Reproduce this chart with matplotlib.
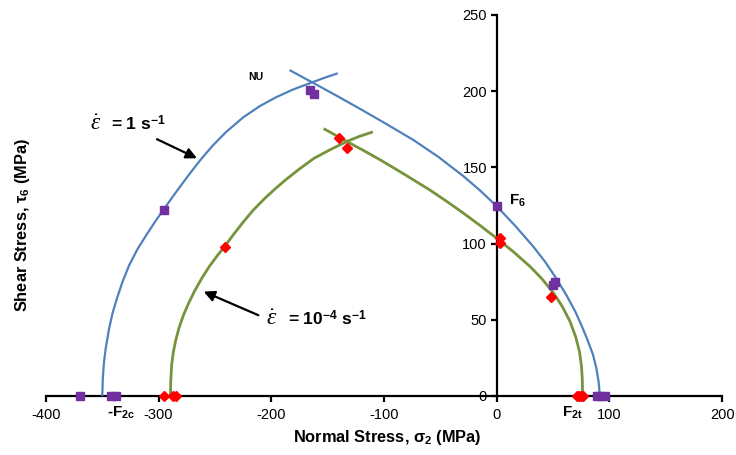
import matplotlib
matplotlib.use('Agg')
import matplotlib.pyplot as plt

plt.rcParams['font.family'] = ['Liberation Sans', 'DejaVu Sans']
plt.rcParams['mathtext.fontset'] = 'custom'
plt.rcParams['mathtext.rm'] = 'Liberation Sans'
plt.rcParams['mathtext.it'] = 'Liberation Serif:italic'
plt.rcParams['mathtext.bf'] = 'Liberation Sans:bold'

# ---------------- data ----------------
x_ticks = [-400, -300, -200, -100, 0, 100, 200]
y_ticks = [0, 50, 100, 150, 200, 250]

# strain rate 1 s^-1 envelope (blue)
blue_left_x = [-350, -349.5, -348.5, -347, -344, -341, -337, -332, -326, -319, -311,
               -303, -295, -285, -274, -263, -252, -240, -225, -210, -195, -181,
               -163, -152, -142]
blue_left_y = [0, 12, 22, 31, 44, 54, 64, 75, 86, 96, 105.5,
               114.5, 123, 133.3, 144.3, 154.8, 164.3, 173.3, 182.8, 190.3, 196.3, 201,
               206, 209, 211.5]
blue_right_x = [-183, -163, -142, -121, -98, -74, -52, -30, -15, 0, 16, 32.5, 43, 53,
                62, 70, 76, 81, 85.5, 88.5, 90.5, 91.5]
blue_right_y = [213.5, 205.5, 197, 188.3, 178.5, 168, 157, 144.5, 135, 124.5, 112, 98,
                88, 77, 66, 55, 45, 36, 27, 18, 9, 0]

# strain rate 1e-4 s^-1 envelope (green)
green_left_x = [-289.5, -289.2, -288.5, -287, -285, -282, -278, -273, -268, -261.5,
                -255, -248, -241, -233, -224.5, -216, -206, -196.5, -187, -175, -162,
                -148, -133, -122, -111]
green_left_y = [0, 10, 20, 28.5, 36, 44.5, 53, 61.5, 69, 77.5,
                85, 92, 98.5, 106.5, 114.5, 122, 129.5, 136, 142, 149, 156,
                161.5, 167, 170.3, 173]
green_right_x = [-152.5, -133, -118, -103.5, -82, -59, -44, -29.6, -15, 0, 15, 29.5,
                 40, 50, 58, 65, 70, 73.5, 75.3, 76, 76.2]
green_right_y = [175, 167, 161, 155, 145.5, 135, 127.5, 120, 112, 103.5, 94.5, 85,
                 77, 68, 59, 49, 39, 29, 19, 10, 0]

# test data
purple_x = [-370, -342, -338, -295, -166, -162, 0, 50, 52, 89, 92, 96]
purple_y = [0, 0, 0, 122, 200.5, 198, 124.5, 73, 75, 0, 0, 0]
red_x = [-295, -287, -284.5, -241, -140, -133, 3, 3, 48.6, 71, 73, 75, 77]
red_y = [0, 0, 0, 98, 169, 162.7, 103.6, 100.3, 64.8, 0, 0, 0, 0]

# ---------------- figure ----------------
fig = plt.figure(figsize=(7.36, 4.55), dpi=100)
ax = fig.add_axes([0.0624, 0.1297, 0.9187, 0.8374])

blue = '#4F81BD'
green = '#77933C'
ax.plot(blue_left_x, blue_left_y, color=blue, lw=1.6, zorder=3, solid_joinstyle='round')
ax.plot(blue_right_x, blue_right_y, color=blue, lw=1.6, zorder=3, solid_joinstyle='round')
ax.plot(green_left_x, green_left_y, color=green, lw=2.0, zorder=3, solid_joinstyle='round')
ax.plot(green_right_x, green_right_y, color=green, lw=2.0, zorder=3, solid_joinstyle='round')

ax.plot(purple_x, purple_y, ls='none', marker='s', ms=6, color='#7030A0',
        zorder=5, clip_on=False)
ax.plot(red_x, red_y, ls='none', marker='D', ms=5, color='#FF0000',
        zorder=5, clip_on=False)

ax.set_xlim(-400, 200)
ax.set_ylim(0, 250)
ax.set_xticks(x_ticks)
ax.set_yticks(y_ticks)
ax.set_xticklabels([str(v) for v in x_ticks])
ax.set_yticklabels([str(v) for v in y_ticks])

for s in ['top', 'right']:
    ax.spines[s].set_visible(False)
ax.spines['left'].set_position(('data', 0))
ax.spines['left'].set_linewidth(1.6)
ax.spines['bottom'].set_linewidth(1.6)
ax.tick_params(axis='both', direction='out', length=4, width=1.6,
               labelsize=10.5, colors='black')
ax.tick_params(axis='x', pad=5)
ax.tick_params(axis='y', pad=3)

ax.set_xlabel('Normal Stress, σ$_\\mathbf{2}$ (MPa)', fontsize=11.8, fontweight='bold')
ax.xaxis.set_label_coords(0.5045, -0.083)
ax.set_ylabel('Shear Stress, τ$_\\mathbf{6}$ (MPa)', fontsize=11.8, fontweight='bold')
ax.yaxis.set_label_coords(-0.02, 0.449)

# annotations
ax.text(-213.5, 209, 'NU', fontsize=7.5, fontweight='bold', ha='center', va='center')
ax.text(11, 128, 'F$_\\mathbf{6}$', fontsize=11, fontweight='bold', ha='left', va='center')
ax.text(-333, -11, '-F$_\\mathbf{2c}$', fontsize=11, fontweight='bold',
        ha='center', va='center', clip_on=False)
ax.text(67, -11, 'F$_\\mathbf{2t}$', fontsize=11, fontweight='bold',
        ha='center', va='center', clip_on=False)

# strain-rate labels
ax.text(-361, 174.5, '$\\dot{\\varepsilon}$', fontsize=17, ha='left', va='baseline')
ax.text(-342, 174.3, '= 1 s$^\\mathbf{-1}$', fontsize=12.5,
        fontweight='bold', ha='left', va='baseline')
ax.text(-205, 46.8, '$\\dot{\\varepsilon}$', fontsize=17, ha='left', va='baseline')
ax.text(-185.5, 46.6, '= 10$^\\mathbf{-4}$ s$^\\mathbf{-1}$', fontsize=12.5,
        fontweight='bold', ha='left', va='baseline')

arrow = dict(arrowstyle='-|>', color='black', lw=1.6, mutation_scale=16,
             shrinkA=0, shrinkB=0)
ax.annotate('', xy=(-266, 156), xytext=(-301.5, 168.5), arrowprops=arrow)
ax.annotate('', xy=(-260, 68.5), xytext=(-211.5, 53), arrowprops=arrow)

fig.savefig('out.png', dpi=100)
